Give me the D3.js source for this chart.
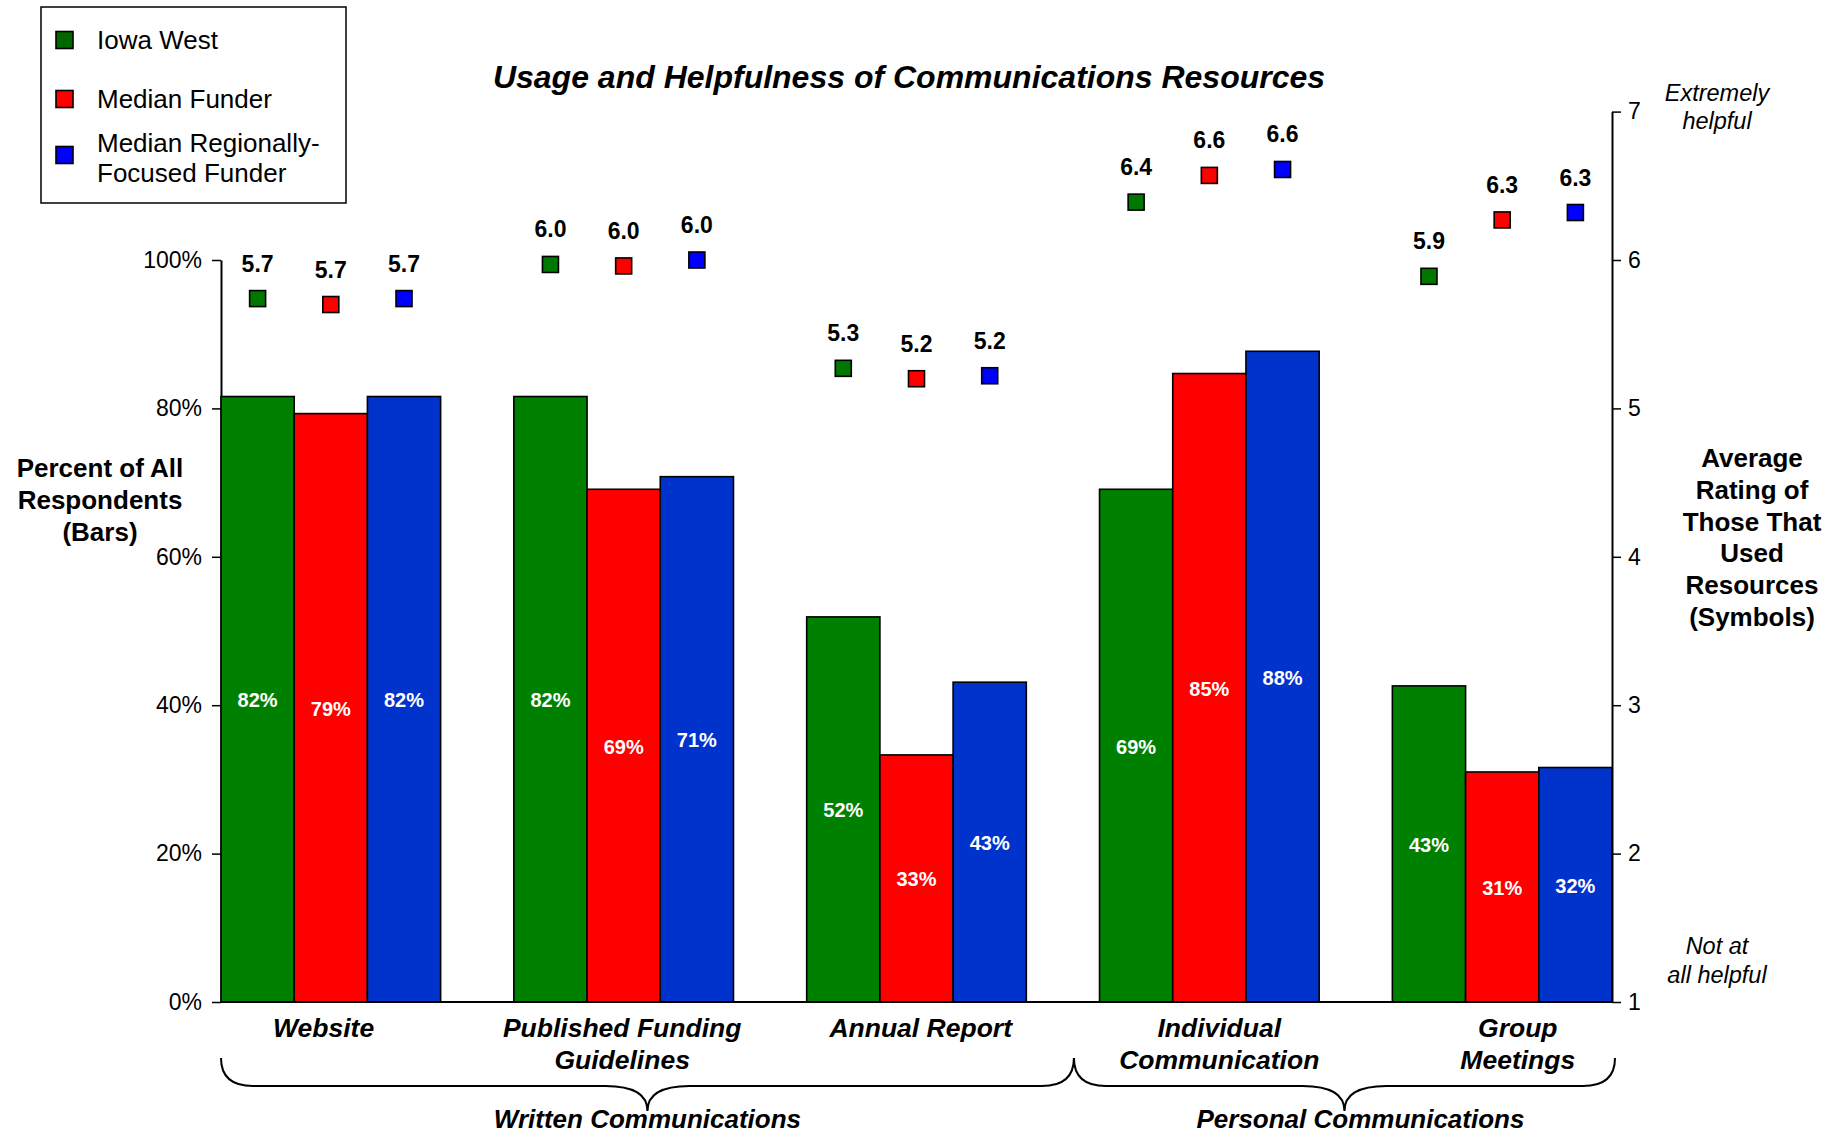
<!DOCTYPE html>
<html><head><meta charset="utf-8">
<script src="https://cdn.jsdelivr.net/npm/d3@7"></script>
<style>
html,body{margin:0;padding:0;background:#fff;}
text{font-family:"Liberation Sans",Arial,Helvetica,sans-serif;}
</style></head>
<body>
<svg id="chart" width="1835" height="1135"></svg>
<script>
// ---------- data ----------
const categories = ["Website", "Published Funding Guidelines", "Annual Report", "Individual Communication", "Group Meetings"];
const categoryLines = [["Website"], ["Published Funding", "Guidelines"], ["Annual Report"], ["Individual", "Communication"], ["Group", "Meetings"]];
const seriesNames = ["Iowa West", "Median Funder", "Median Regionally-Focused Funder"];
const legendLines = [["Iowa West"], ["Median Funder"], ["Median Regionally-", "Focused Funder"]];
const pctIowaWest = [81.6, 81.6, 51.9, 69.1, 42.6];
const pctMedianFunder = [79.3, 69.1, 33.3, 84.7, 31.0];
const pctMedianRegional = [81.6, 70.8, 43.1, 87.7, 31.6];
const ratingIowaWest = [5.74, 5.97, 5.27, 6.39, 5.89];
const ratingMedianFunder = [5.70, 5.96, 5.20, 6.57, 6.27];
const ratingMedianRegional = [5.74, 6.00, 5.22, 6.61, 6.32];
const leftTicks = [0, 20, 40, 60, 80, 100];
const rightTicks = [1, 2, 3, 4, 5, 6, 7];
const braceGroups = [
  {label: "Written Communications", from: 0, to: 2},
  {label: "Personal Communications", from: 3, to: 4}
];

// ---------- styles ----------
const barColors = ["#008000", "#FF0000", "#0033CC"];
const markerColors = ["#007800", "#FF0000", "#0000FF"];
const legendColors = ["#006600", "#FF0000", "#0000FF"];

const pctSeries = [pctIowaWest, pctMedianFunder, pctMedianRegional];
const ratingSeries = [ratingIowaWest, ratingMedianFunder, ratingMedianRegional];

const svg = d3.select("#chart");
const left = 221, right = 1612, top100 = 260, bottom = 1002;
const unitR = (bottom - top100) / 5;

const x0 = d3.scaleBand().domain(categories).range([left, right]).paddingInner(0.25).paddingOuter(0);
const x1 = d3.scaleBand().domain(d3.range(3)).range([0, x0.bandwidth()]).padding(0);
const yL = d3.scaleLinear().domain([0, 100]).range([bottom, top100]);
const yR = d3.scaleLinear().domain([1, 7]).range([bottom, bottom - 6 * unitR]);

// axes
const axL = svg.append("g").attr("transform", `translate(${left},0)`)
  .call(d3.axisLeft(yL).tickValues(leftTicks).tickFormat(d => d + "%").tickSize(9).tickSizeOuter(0).tickPadding(10));
const axR = svg.append("g").attr("transform", `translate(${right},0)`)
  .call(d3.axisRight(yR).tickValues(rightTicks).tickFormat(d3.format("d")).tickSize(9).tickSizeOuter(0).tickPadding(7));
[axL, axR].forEach(a => {
  a.selectAll("text").attr("font-size", 23).attr("fill", "#000").attr("font-family", "Liberation Sans, Arial, sans-serif");
  a.selectAll("line").attr("stroke", "#000").attr("stroke-width", 1.5);
  a.select(".domain").attr("stroke", "#000").attr("stroke-width", 2);
});

// bars
const groups = svg.append("g").selectAll("g").data(categories).join("g")
  .attr("transform", d => `translate(${x0(d)},0)`);
groups.each(function(cat, ci) {
  const g = d3.select(this);
  const vals = pctSeries.map((s, si) => ({si, v: s[ci]}));
  g.selectAll("rect").data(vals).join("rect")
    .attr("x", d => x1(d.si)).attr("width", x1.bandwidth())
    .attr("y", d => yL(d.v)).attr("height", d => yL(0) - yL(d.v))
    .attr("fill", d => barColors[d.si]).attr("stroke", "#000").attr("stroke-width", 1.6);
  g.selectAll("text.pct").data(vals).join("text").attr("class", "pct")
    .attr("x", d => x1(d.si) + x1.bandwidth() / 2)
    .attr("y", d => yL(d.v / 2) + 8)
    .attr("text-anchor", "middle").attr("font-size", 20).attr("font-weight", "bold").attr("fill", "#fff")
    .text(d => Math.round(d.v) + "%");
});

// baseline
svg.append("line").attr("x1", left).attr("x2", right).attr("y1", yL(0)).attr("y2", yL(0))
  .attr("stroke", "#000").attr("stroke-width", 2);

// markers
const mSize = 16;
groups.each(function(cat, ci) {
  const g = d3.select(this);
  const vals = ratingSeries.map((s, si) => ({si, v: s[ci]}));
  g.selectAll("rect.mk").data(vals).join("rect").attr("class", "mk")
    .attr("x", d => x1(d.si) + x1.bandwidth() / 2 - mSize / 2)
    .attr("y", d => yR(d.v) - mSize / 2)
    .attr("width", mSize).attr("height", mSize)
    .attr("fill", d => markerColors[d.si]).attr("stroke", "#000").attr("stroke-width", 1.6);
  g.selectAll("text.rt").data(vals).join("text").attr("class", "rt")
    .attr("x", d => x1(d.si) + x1.bandwidth() / 2)
    .attr("y", d => yR(d.v) - 27)
    .attr("text-anchor", "middle").attr("font-size", 23).attr("font-weight", "bold").attr("fill", "#000")
    .text(d => d.v.toFixed(1));
});

// category labels
const xLab = d3.scalePoint().domain(categories).range([323.6, 1517.8]);
categories.forEach((c, i) => {
  const t = svg.append("text").attr("text-anchor", "middle").attr("font-size", 26.5)
    .attr("font-weight", "bold").attr("font-style", "italic");
  categoryLines[i].forEach((ln, k) => {
    t.append("tspan").attr("x", xLab(c)).attr("y", 1037 + k * 32).text(ln);
  });
});

// braces
const step = x0.step();
function gap(i) { return x0(categories[i]) + x0.bandwidth() + (step - x0.bandwidth()) / 2 + 11; }
braceGroups.forEach(b => {
  const xa = b.from === 0 ? left : gap(b.from - 1);
  const xb = b.to === categories.length - 1 ? right + 3 : gap(b.to);
  const xm = (xa + xb) / 2;
  const ya = 1058, yb = 1086, yc = 1111, r = 32, r2 = 42;
  const p = `M${xa},${ya} Q${xa},${yb} ${xa + r},${yb} L${xm - r2},${yb} Q${xm},${yb} ${xm},${yc} Q${xm},${yb} ${xm + r2},${yb} L${xb - r},${yb} Q${xb},${yb} ${xb},${ya}`;
  svg.append("path").attr("d", p).attr("fill", "none").attr("stroke", "#000").attr("stroke-width", 2);
  svg.append("text").attr("x", xm + (b.from === 0 ? 0 : 16)).attr("y", 1128).attr("text-anchor", "middle")
    .attr("font-size", 26).attr("font-weight", "bold").attr("font-style", "italic").text(b.label);
});

// title
svg.append("text").attr("x", 909).attr("y", 88).attr("text-anchor", "middle")
  .attr("font-size", 32).attr("font-weight", "bold").attr("font-style", "italic")
  .text("Usage and Helpfulness of Communications Resources");

// left axis title
const lt = svg.append("text").attr("text-anchor", "middle").attr("font-size", 26).attr("font-weight", "bold");
["Percent of All", "Respondents", "(Bars)"].forEach((s, k) => lt.append("tspan").attr("x", 100).attr("y", 477 + k * 32).text(s));

// right axis title
const rt = svg.append("text").attr("text-anchor", "middle").attr("font-size", 26).attr("font-weight", "bold");
["Average", "Rating of", "Those That", "Used", "Resources", "(Symbols)"].forEach((s, k) =>
  rt.append("tspan").attr("x", 1752).attr("y", 467 + k * 31.8).text(s));

// scale end annotations
const ext = svg.append("text").attr("text-anchor", "middle").attr("font-size", 23.5).attr("font-style", "italic");
["Extremely", "helpful"].forEach((s, k) => ext.append("tspan").attr("x", 1717).attr("y", 101 + k * 28).text(s));
const notAt = svg.append("text").attr("text-anchor", "middle").attr("font-size", 23.5).attr("font-style", "italic");
["Not at", "all helpful"].forEach((s, k) => notAt.append("tspan").attr("x", 1717).attr("y", 954 + k * 29).text(s));

// legend
svg.append("rect").attr("x", 41).attr("y", 7).attr("width", 305).attr("height", 196)
  .attr("fill", "#fff").attr("stroke", "#000").attr("stroke-width", 1.5);
const legY = [49, 108, 152];
seriesNames.forEach((s, i) => {
  const lines = legendLines[i];
  const cy = lines.length === 1 ? legY[i] - 9 : legY[i] + 3;
  svg.append("rect").attr("x", 56).attr("y", cy - 8.5).attr("width", 17).attr("height", 17)
    .attr("fill", legendColors[i]).attr("stroke", "#000").attr("stroke-width", 1.6);
  const t = svg.append("text").attr("font-size", 26).attr("fill", "#000");
  lines.forEach((ln, k) => t.append("tspan").attr("x", 97).attr("y", legY[i] + k * 29.5).text(ln));
});
</script>
</body></html>
